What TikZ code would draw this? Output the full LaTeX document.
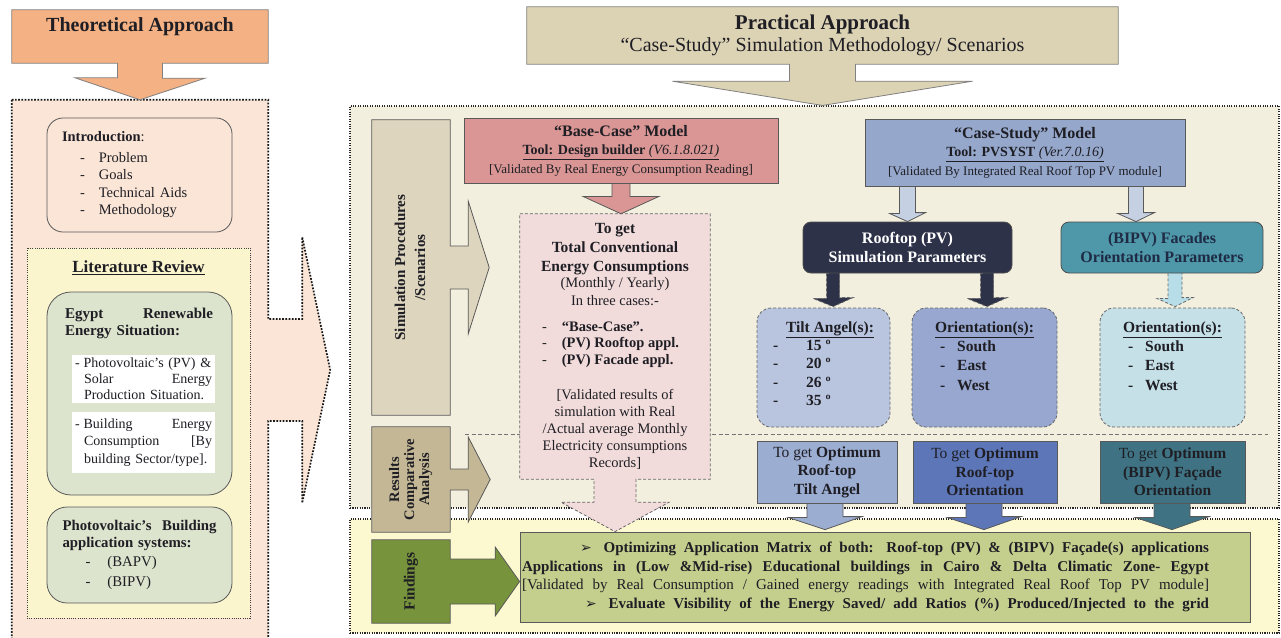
\documentclass[tikz,border=0pt]{standalone}
\usepackage{fontspec}
\setmainfont{Liberation Serif}
\newfontfamily\arrowfont{DejaVu Sans}
\usetikzlibrary{calc,backgrounds}
\definecolor{ink}{HTML}{1E1E24}
\definecolor{theofill}{HTML}{F4B183}
\definecolor{leftfill}{HTML}{FBE5D6}
\definecolor{litfill}{HTML}{FAF5CD}
\definecolor{greenfill}{HTML}{DDE4CD}
\definecolor{pracfill}{HTML}{DCD2B4}
\definecolor{simfill}{HTML}{F3EFDF}
\definecolor{findpfill}{HTML}{FCF9D0}
\definecolor{simtag}{HTML}{DDD5BE}
\definecolor{restag}{HTML}{C4B795}
\definecolor{findtag}{HTML}{77933C}
\definecolor{findfill}{HTML}{C4CF8D}
\definecolor{basefill}{HTML}{D99694}
\definecolor{pinkfill}{HTML}{F2DCDB}
\definecolor{casefill}{HTML}{95A7CB}
\definecolor{arrowblue}{HTML}{C6D0E3}
\definecolor{navyfill}{HTML}{2D3249}
\definecolor{bipvfill}{HTML}{4E98A9}
\definecolor{navytext}{HTML}{1F2A44}
\definecolor{tiltfill}{HTML}{B9C5DF}
\definecolor{rorifill}{HTML}{97A7CF}
\definecolor{borifill}{HTML}{C5E0E7}
\definecolor{cyanarrow}{HTML}{B7DDE8}
\definecolor{opta}{HTML}{9CADD2}
\definecolor{optb}{HTML}{5D76B8}
\definecolor{optc}{HTML}{3F7383}

\begin{document}
\begin{tikzpicture}[x=1pt, y=-1pt, text=ink,
  font=\fontsize{14.5}{17.5}\selectfont,
  box/.style={draw=black!65, line width=0.8pt, inner sep=0pt, align=center},
  roundbox/.style={box, rounded corners=16pt},
  dashbox/.style={box, rounded corners=14pt, draw=black!60, dash pattern=on 3pt off 2pt},
  region/.style={inner sep=0pt, align=center},
  sidetag/.style={region, font=\bfseries\fontsize{15}{20}\selectfont},
  dotpanel/.style={draw=black!85, line width=1.1pt, dash pattern=on 1.1pt off 1.3pt},
  leftdots/.style={draw=black!90, line width=1.7pt, dash pattern=on 1.7pt off 1.5pt},
  callout/.style={draw=black!50, line width=0.8pt},
  blockarrow/.style={draw=black!65, line width=0.8pt},
  dasharrow/.style={draw=black!60, line width=0.8pt, dash pattern=on 3pt off 2pt},
  sepline/.style={draw=black!55, line width=0.8pt, dash pattern=on 4pt off 2.5pt},
]
\useasboundingbox (0,0) rectangle (1281,637);

% ---- theoretical side
\node[region, font=\bfseries\fontsize{20}{22}\selectfont, minimum width=256,
      text height=21.5pt, text depth=31.5pt] (theo) at (140,36.5) {Theoretical Approach};
\node[region, minimum width=256, minimum height=540] (leftp) at (140,370) {};

\node[roundbox, fill=leftfill, minimum width=185, minimum height=114, text width=155, align=left]
  (intro) at (139.5,175)
  {\textbf{Introduction}:\\[3pt]
   \hspace*{18pt}-\hspace{14pt}Problem\\
   \hspace*{18pt}-\hspace{14pt}Goals\\
   \hspace*{18pt}-\hspace{14pt}Technical Aids\\
   \hspace*{18pt}-\hspace{14pt}Methodology};

\node[box, fill=litfill, draw=black!75, line width=1pt, dash pattern=on 1pt off 1.2pt,
      minimum width=223, minimum height=370] (lit) at (138.5,433) {};
\node[font=\bfseries\fontsize{17}{20}\selectfont] (littitle) at (138.5,268) {\underline{Literature Review}};

\node[roundbox, rounded corners=24pt, fill=greenfill, minimum width=185, minimum height=203]
  (egypt) at (139.5,393.5) {};
\node[region, text width=148, align=left, font=\bfseries\fontsize{15}{17}\selectfont]
  (egtitle) at (139,323.5) {Egypt\hfill Renewable\\Energy Situation:};
\node[region, fill=white, minimum width=143, minimum height=48, text width=137, align=left,
      font=\fontsize{14}{16}\selectfont] (pvsit) at (143.5,379)
  {-\hspace{4pt}Photovoltaic's (PV) \&\\
   \hspace*{9pt}Solar\hfill Energy\\
   \hspace*{9pt}Production Situation.};
\node[region, fill=white, minimum width=143, minimum height=61, text width=137, align=left,
      font=\fontsize{14}{17.5}\selectfont] (bldg) at (143.5,442.5)
  {-\hspace{4pt}Building\hfill Energy\\
   \hspace*{9pt}Consumption\hfill [By\\
   \hspace*{9pt}building Sector/type].};

\node[roundbox, rounded corners=20pt, fill=greenfill, minimum width=185, minimum height=96,
      text width=154, align=left, font=\fontsize{14.8}{17}\selectfont] (pvbldg) at (139.5,555)
  {\textbf{Photovoltaic's\hfill Building}\\
   \textbf{application systems:}\\[2pt]
   \hspace*{23pt}-\hspace{17pt}(BAPV)\\[3pt]
   \hspace*{23pt}-\hspace{17pt}(BIPV)};

% ---- practical side
\node[region, font=\fontsize{21}{22}\selectfont, minimum width=591, minimum height=57]
  (prac) at (822.5,35.5)
  {\textbf{Practical Approach}\\{\fontsize{20}{22}\selectfont “Case-Study” Simulation Methodology/ Scenarios}};

\node[sidetag, minimum width=78, minimum height=295] (simlab) at (411,267.5)
  {\rotatebox{90}{\begin{tabular}{@{}c@{}}Simulation Procedures\\/Scenarios\end{tabular}}};
\node[sidetag, font=\bfseries\fontsize{14.5}{15}\selectfont, minimum width=78, minimum height=105]
  (reslab) at (411,479.5)
  {\rotatebox{90}{\begin{tabular}{@{}c@{}}Results\\Comparative\\Analysis\end{tabular}}};
\node[sidetag, font=\bfseries\fontsize{15.5}{18}\selectfont, minimum width=78, minimum height=83]
  (findlab) at (411,581.5) {\rotatebox{90}{Findings}};

\node[box, fill=basefill, minimum width=314, minimum height=65, font=\fontsize{13}{18.5}\selectfont]
  (base) at (621,150.5)
  {{\fontsize{16}{18.5}\selectfont\bfseries “Base-Case” Model}\\
   {\fontsize{14}{18.5}\selectfont\underline{\textbf{Tool: Design builder} \textit{(V6.1.8.021)}}}\\
   {[Validated By Real Energy Consumption Reading]}};

\node[region, minimum width=190, minimum height=265, font=\fontsize{14.5}{17}\selectfont]
  (pink) at (615,346.5)
  {{\bfseries\fontsize{15.5}{17}\selectfont To get}\\[2.5pt]
   {\bfseries\fontsize{15.5}{17}\selectfont Total Conventional}\\[2pt]
   {\bfseries\fontsize{15.5}{17}\selectfont Energy Consumptions}\\[-1pt]
   (Monthly / Yearly)\\[1pt]
   In three cases:-\\[9pt]
   \makebox[146pt][l]{-\hspace{15pt}\textbf{“Base-Case”.}}\\[-1pt]
   \makebox[146pt][l]{-\hspace{15pt}\textbf{(PV) Rooftop appl.}}\\
   \makebox[146pt][l]{-\hspace{15pt}\textbf{(PV) Facade appl.}}\\[18pt]
   {[Validated results of}\\
   simulation with Real\\
   /Actual average Monthly\\
   Electricity consumptions\\
   Records]};

\node[box, fill=casefill, minimum width=320, minimum height=67, font=\fontsize{13}{18.5}\selectfont]
  (case) at (1025,152.5)
  {{\fontsize{16}{18.5}\selectfont\bfseries “Case-Study” Model}\\
   {\fontsize{14}{18.5}\selectfont\underline{\textbf{Tool: PVSYST} \textit{(Ver.7.0.16)}}}\\
   {[Validated By Integrated Real Roof Top PV module]}};

\node[box, rounded corners=8pt, fill=navyfill, draw=black!70, text=white, minimum width=209,
      minimum height=51, font=\bfseries\fontsize{16}{19}\selectfont]
  (roof) at (907.5,247.5) {Rooftop (PV)\\Simulation Parameters};
\node[box, rounded corners=8pt, fill=bipvfill, draw=black!70, text=navytext, minimum width=202,
      minimum height=51, font=\bfseries\fontsize{16}{19}\selectfont]
  (bipv) at (1162,247.5) {(BIPV) Facades\\Orientation Parameters};

\node[dashbox, fill=tiltfill, minimum width=133, minimum height=119, align=left,
      font=\bfseries\fontsize{15.5}{18.3}\selectfont] (tilt) at (823.5,367.5)
  {\hspace*{13pt}\underline{Tilt Angel(s):}\\
   -\hspace{28pt}15 º\\-\hspace{28pt}20 º\\-\hspace{28pt}26 º\\-\hspace{28pt}35 º\\[-10pt]};
\node[dashbox, fill=rorifill, minimum width=145, minimum height=119, align=left,
      font=\bfseries\fontsize{15.5}{19.3}\selectfont] (rori) at (984.5,367.5)
  {\underline{Orientation(s):}\\
   \hspace*{5pt}-\hspace{12pt}South\\\hspace*{5pt}-\hspace{12pt}East\\\hspace*{5pt}-\hspace{12pt}West\\[4pt]};
\node[dashbox, fill=borifill, minimum width=145, minimum height=119, align=left,
      font=\bfseries\fontsize{15.5}{19.3}\selectfont] (bori) at (1172.5,367.5)
  {\underline{Orientation(s):}\\
   \hspace*{5pt}-\hspace{12pt}South\\\hspace*{5pt}-\hspace{12pt}East\\\hspace*{5pt}-\hspace{12pt}West\\[4pt]};

\node[box, fill=opta, minimum width=140, minimum height=62, font=\fontsize{15.5}{18.5}\selectfont]
  (opt1) at (827,472) {To get \textbf{Optimum}\\\textbf{Roof-top}\\\textbf{Tilt Angel}};
\node[box, fill=optb, minimum width=144, minimum height=62, font=\fontsize{15.5}{18.5}\selectfont]
  (opt2) at (985,472) {To get \textbf{Optimum}\\\textbf{Roof-top}\\\textbf{Orientation}};
\node[box, fill=optc, minimum width=145, minimum height=62, font=\fontsize{15.5}{18.5}\selectfont]
  (opt3) at (1172.5,472) {To get \textbf{Optimum}\\\textbf{(BIPV) Façade}\\\textbf{Orientation}};

\node[box, fill=findfill, minimum width=730, minimum height=90,
      font=\bfseries\fontsize{15}{18.7}\selectfont] (findbox) at (885,577)
  {\makebox[726pt][s]{\hspace*{58pt}{\arrowfont\mdseries\fontsize{14}{14}\selectfont ➢}\hspace{12pt}Optimizing Application Matrix of both: Roof-top (PV) \& (BIPV) Façade(s) applications\hspace*{39pt}}\\
   \makebox[726pt][s]{Applications in (Low \&Mid-rise) Educational buildings in Cairo \& Delta Climatic Zone- Egypt\hspace*{39pt}}\\
   \makebox[726pt][s]{\mdseries [Validated by Real Consumption / Gained energy readings with Integrated Real Roof Top PV module]\hspace*{39pt}}\\
   \makebox[726pt][s]{\hspace*{63pt}{\arrowfont\mdseries\fontsize{14}{14}\selectfont ➢}\hspace{12pt}Evaluate Visibility of the Energy Saved/ add Ratios (\%) Produced/Injected to the grid\hspace*{39pt}}};

\coordinate (sepL) at (465,434);
\coordinate (sepR) at (1268,434);

\begin{scope}[on background layer]
\fill[white] (0,0) rectangle (1281,637);
\node[box, dotpanel, fill=simfill, minimum width=929, minimum height=402] (simp) at (814.5,307) {};
\node[box, dotpanel, fill=findpfill, minimum width=929, minimum height=114] (findp) at (814.5,576) {};

% left panel and its big dotted arrow
\filldraw[leftdots, fill=leftfill] (leftp.north west) -- (leftp.north east)
  -- ($(leftp.east)+(0,-51)$) -- ++(34,0) -- ++(0,-82) -- ($(leftp.east)+(62,0)$)
  -- ($(leftp.east)+(34,133)$) -- ++(0,-82) -- ($(leftp.east)+(0,51)$)
  -- (leftp.south east) -- (leftp.south west) -- cycle;

\draw[sepline] (sepL) -- (sepR);

% callouts
\filldraw[callout, fill=theofill] (theo.north west) -- (theo.north east) -- (theo.south east)
  -- ($(theo.south)+(22.5,0)$) -- ++(0,15) -- ++(42.5,0) -- (leftp.north)
  -- ++(-65,-22) -- ++(42.5,0) -- ($(theo.south)+(-22.5,0)$) -- (theo.south west) -- cycle;
\filldraw[callout, fill=pracfill] (prac.north west) -- (prac.north east) -- (prac.south east)
  -- ($(prac.south)+(33,0)$) -- ++(0,17) -- ++(117,0) -- (prac.south |- simp.north)
  -- ($(prac.south)+(-150,17)$) -- ++(117,0) -- ($(prac.south)+(-33,0)$) -- (prac.south west) -- cycle;

\filldraw[blockarrow, fill=simtag] (simlab.north west) -- (simlab.north east)
  -- ($(simlab.east)+(0,-21.5)$) -- ++(18,0) -- ++(0,-45) -- ($(simlab.east)+(39,0)$)
  -- ($(simlab.east)+(18,66.5)$) -- ++(0,-45) -- ($(simlab.east)+(0,21.5)$)
  -- (simlab.south east) -- (simlab.south west) -- cycle;
\filldraw[blockarrow, fill=restag] (reslab.north west) -- (reslab.north east)
  -- ($(reslab.east)+(0,-10.5)$) -- ++(18,0) -- ++(0,-32) -- ($(reslab.east)+(40,0)$)
  -- ($(reslab.east)+(18,42.5)$) -- ++(0,-32) -- ($(reslab.east)+(0,10.5)$)
  -- (reslab.south east) -- (reslab.south west) -- cycle;
\filldraw[blockarrow, fill=findtag] (findlab.north west) -- (findlab.north east)
  -- ($(findlab.east)+(0,-22.5)$) -- ++(45,0) -- ++(0,-12) -- (findlab.east -| findbox.west)
  -- ($(findlab.east)+(45,34.5)$) -- ++(0,-12) -- ($(findlab.east)+(0,22.5)$)
  -- (findlab.south east) -- (findlab.south west) -- cycle;

\filldraw[dasharrow, fill=pinkfill] (pink.north west) -- (pink.north east) -- (pink.south east)
  -- ($(pink.south)+(21,0)$) -- ++(0,23) -- ++(33,0) -- (pink.south |- findbox.north)
  -- ($(pink.south)+(-54,23)$) -- ++(33,0) -- ($(pink.south)+(-21,0)$) -- (pink.south west) -- cycle;

% block arrows between boxes
\filldraw[blockarrow, fill=basefill] ($(base.south)+(-9,0)$) -- ++(0,13) -- ++(-29,0)
  -- (base.south |- pink.north) -- ($(base.south)+(38,13)$) -- ++(-29,0) -- ++(0,-13);
\filldraw[blockarrow, fill=arrowblue] ($(roof.north |- case.south)+(-8,0)$) -- ++(0,27) -- ++(-10,0)
  -- (roof.north) -- ++(18,-9) -- ++(-10,0) -- ++(0,-27);
\filldraw[blockarrow, fill=arrowblue] ($(bipv.north |- case.south)+(-33.5,0)$) -- ++(0,27) -- ++(-11,0)
  -- ($(bipv.north)+(-26,0)$) -- ++(18.5,-9) -- ++(-11,0) -- ++(0,-27);

\filldraw[dasharrow, fill=navyfill] ($(tilt.north |- roof.south)+(3,0)$) -- ++(0,25) -- ++(-13.5,0)
  -- ($(tilt.north)+(9.5,-1)$) -- ++(20,-9) -- ++(-13.5,0) -- ++(0,-25);
\filldraw[dasharrow, fill=navyfill] ($(rori.north |- roof.south)+(-4,0)$) -- ++(0,25) -- ++(-13.5,0)
  -- ($(rori.north)+(2.5,-1)$) -- ++(20,-9) -- ++(-13.5,0) -- ++(0,-25);
\filldraw[dasharrow, fill=cyanarrow] ($(bori.north |- bipv.south)+(-4.5,0)$) -- ++(0,25) -- ++(-11,0)
  -- ($(bori.north)+(2.5,-1)$) -- ++(18,-9) -- ++(-11,0) -- ++(0,-25);

\filldraw[blockarrow, fill=opta] ($(opt1.south)+(-20,0)$) -- ++(0,14) -- ++(-19,0)
  -- ($(opt1.south |- findbox.north)+(-2,-2)$) -- ++(37,-13) -- ++(-19,0) -- ++(0,-14);
\filldraw[blockarrow, fill=optb] ($(opt2.south)+(-19,0)$) -- ++(0,14) -- ++(-19,0)
  -- ($(opt2.south |- findbox.north)+(-1,-2)$) -- ++(37,-13) -- ++(-19,0) -- ++(0,-14);
\filldraw[blockarrow, fill=optc] ($(opt3.south)+(-18.5,0)$) -- ++(0,14) -- ++(-19,0)
  -- ($(opt3.south |- findbox.north)+(-0.5,-2)$) -- ++(37,-13) -- ++(-19,0) -- ++(0,-14);
\end{scope}
\end{tikzpicture}
\end{document}
